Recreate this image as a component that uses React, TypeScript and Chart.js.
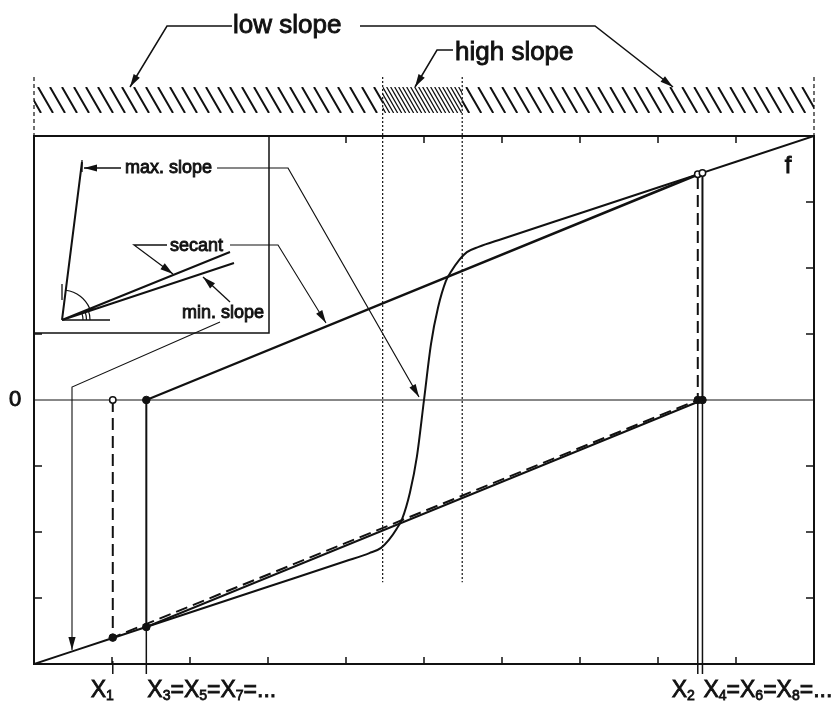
import React, { useEffect, useRef } from "react";
import { Chart, registerables } from "chart.js";

Chart.register(...registerables);

// ---- data ----
const fX = [0, 1, 2, 3, 4, 4.3, 4.45, 4.55, 4.65, 4.72, 4.82, 4.91, 5.0, 5.09, 5.18, 5.28, 5.35, 5.45, 5.55, 5.7, 6, 7, 8, 9, 10];
const fY = [-4, -3.61, -3.22, -2.83, -2.44, -2.32, -2.24, -2.12, -1.95, -1.8, -1.4, -0.85, 0, 0.85, 1.4, 1.8, 1.95, 2.12, 2.24, 2.32, 2.44, 2.83, 3.22, 3.61, 4];

const X1 = 1.01;
const X2 = 8.51;
const X3 = 1.44;
const X4 = 8.57;
const FX1 = -3.6;
const FX2 = 3.42;
const FX3 = -3.44;
const FX4 = 3.44;

const dashedPathX = [X1, X1, X2, X2];
const dashedPathY = [0, FX1, 0, FX2];
const solidPathX = [X2, X3, X3, X4, X4, X3];
const solidPathY = [FX2, 0, FX3, 0, FX4, 0];

const filledPtsX = [X1, X3, X3, X2, X4];
const filledPtsY = [FX1, FX3, 0, 0, 0];
const openPtsX = [X1, X2, X4];
const openPtsY = [0, FX2, FX4];

const xTicks = [1, 2, 3, 4, 5, 6, 7, 8, 9];
const yTicks = [-3, -2, -1, 1, 2, 3];
const highSlopeBounds = [4.47, 5.49];
const dottedBottomY = -2.76;

const FONT = '"Liberation Sans", Arial, Helvetica, sans-serif';
const INK = "#111";

const zip = (xs: number[], ys: number[]) => xs.map((x, i) => ({ x, y: ys[i] }));

function arrowPath(ctx: CanvasRenderingContext2D, pts: number[][], head: boolean, lw = 1.2) {
  ctx.save();
  ctx.lineWidth = lw;
  ctx.strokeStyle = INK;
  ctx.fillStyle = INK;
  ctx.setLineDash([]);
  ctx.beginPath();
  ctx.moveTo(pts[0][0], pts[0][1]);
  for (let i = 1; i < pts.length; i++) ctx.lineTo(pts[i][0], pts[i][1]);
  ctx.stroke();
  if (head) {
    const [x2, y2] = pts[pts.length - 1];
    const [x1, y1] = pts[pts.length - 2];
    const a = Math.atan2(y2 - y1, x2 - x1);
    const L = 13, W = 3.6;
    const c = Math.cos(a), s = Math.sin(a);
    ctx.beginPath();
    ctx.moveTo(x2, y2);
    ctx.lineTo(x2 - L * c + W * s, y2 - L * s - W * c);
    ctx.lineTo(x2 - L * c - W * s, y2 - L * s + W * c);
    ctx.closePath();
    ctx.fill();
  }
  ctx.restore();
}

function text(ctx: CanvasRenderingContext2D, t: string, x: number, y: number, size: number, align: CanvasTextAlign = "left") {
  ctx.save();
  ctx.font = `${size}px ${FONT}`;
  ctx.fillStyle = INK;
  ctx.strokeStyle = INK;
  ctx.lineWidth = 0.9;
  ctx.textAlign = align;
  ctx.textBaseline = "middle";
  ctx.fillText(t, x, y);
  ctx.strokeText(t, x, y);
  ctx.restore();
}

function subText(ctx: CanvasRenderingContext2D, parts: [string, boolean][], x: number, y: number, align: "left" | "right") {
  const big = `23px ${FONT}`;
  const small = `14px ${FONT}`;
  ctx.save();
  ctx.fillStyle = INK;
  ctx.strokeStyle = INK;
  ctx.lineWidth = 0.8;
  ctx.textAlign = "left";
  ctx.textBaseline = "alphabetic";
  let w = 0;
  for (const [t, sub] of parts) {
    ctx.font = sub ? small : big;
    w += ctx.measureText(t).width;
  }
  let cx = align === "left" ? x : x - w;
  for (const [t, sub] of parts) {
    ctx.font = sub ? small : big;
    const yy = sub ? y + 3 : y;
    ctx.fillText(t, cx, yy);
    ctx.strokeText(t, cx, yy);
    cx += ctx.measureText(t).width;
  }
  ctx.restore();
}

const figurePlugin = {
  id: "figure",
  beforeDraw(chart: any) {
    const { ctx, width, height } = chart;
    ctx.save();
    ctx.fillStyle = "#fff";
    ctx.fillRect(0, 0, width, height);
    ctx.restore();
  },
  beforeDatasetsDraw(chart: any) {
    const { ctx, chartArea: a, scales } = chart;
    const xs = scales.x, ys = scales.y;
    ctx.save();
    // zero line
    ctx.strokeStyle = INK;
    ctx.lineWidth = 1;
    const y0 = ys.getPixelForValue(0);
    ctx.beginPath();
    ctx.moveTo(a.left, y0);
    ctx.lineTo(a.right, y0);
    ctx.stroke();

    // hatch bar
    const barTop = 87, barBot = 113;
    const bx0 = xs.getPixelForValue(0);
    const bx1 = xs.getPixelForValue(highSlopeBounds[0]);
    const bx2 = xs.getPixelForValue(highSlopeBounds[1]);
    const bx3 = xs.getPixelForValue(10);
    const hatch = (l: number, r: number, step: number, lw: number) => {
      ctx.save();
      ctx.beginPath();
      ctx.rect(l, barTop, r - l, barBot - barTop);
      ctx.clip();
      ctx.lineWidth = lw;
      ctx.beginPath();
      for (let s = l - 20; s < r + 2; s += step) {
        ctx.moveTo(s, barTop);
        ctx.lineTo(s + 15, barBot);
      }
      ctx.stroke();
      ctx.restore();
    };
    hatch(bx0, bx1, 12, 2);
    hatch(bx1, bx2, 4, 1.3);
    hatch(bx2, bx3, 12, 2);

    // outer dashed verticals
    ctx.setLineDash([4, 3]);
    ctx.lineWidth = 1.2;
    for (const v of [0, 10]) {
      const px = xs.getPixelForValue(v);
      ctx.beginPath();
      ctx.moveTo(px, 77);
      ctx.lineTo(px, a.top);
      ctx.stroke();
    }
    // dotted region bounds
    ctx.setLineDash([2, 2]);
    ctx.lineWidth = 1.2;
    const yb = ys.getPixelForValue(dottedBottomY);
    for (const v of highSlopeBounds) {
      const px = xs.getPixelForValue(v);
      ctx.beginPath();
      ctx.moveTo(px, 77);
      ctx.lineTo(px, yb);
      ctx.stroke();
    }
    ctx.restore();
  },
  afterDatasetsDraw(chart: any) {
    const { ctx, chartArea: a, scales } = chart;
    const xs = scales.x, ys = scales.y;
    ctx.save();
    ctx.strokeStyle = INK;
    ctx.fillStyle = INK;

    // extensions below the axis
    ctx.lineWidth = 1.5;
    const ext = (v: number, from: number) => {
      const px = xs.getPixelForValue(v);
      ctx.beginPath();
      ctx.moveTo(px, from);
      ctx.lineTo(px, a.bottom + 10);
      ctx.stroke();
    };
    ext(X1, a.bottom - 3);
    ext(X3, ys.getPixelForValue(FX3));
    ext(X2, ys.getPixelForValue(0));
    ext(X4, ys.getPixelForValue(0));

    // frame
    ctx.lineWidth = 2;
    ctx.strokeRect(a.left, a.top, a.right - a.left, a.bottom - a.top);
    // ticks
    ctx.lineWidth = 1.5;
    for (const t of xTicks) {
      const px = xs.getPixelForValue(t);
      ctx.beginPath();
      ctx.moveTo(px, a.bottom);
      ctx.lineTo(px, a.bottom - 7);
      ctx.moveTo(px, a.top);
      ctx.lineTo(px, a.top + 7);
      ctx.stroke();
    }
    for (const t of yTicks) {
      const py = ys.getPixelForValue(t);
      ctx.beginPath();
      ctx.moveTo(a.right, py);
      ctx.lineTo(a.right - 8, py);
      ctx.moveTo(a.left, py);
      ctx.lineTo(a.left + 8, py);
      ctx.stroke();
    }

    // inset box
    ctx.fillStyle = "#fff";
    ctx.fillRect(a.left, a.top, 269 - a.left, 333 - a.top);
    ctx.fillStyle = INK;
    ctx.lineWidth = 1.5;
    ctx.beginPath();
    ctx.moveTo(a.left, 333);
    ctx.lineTo(269, 333);
    ctx.lineTo(269, a.top);
    ctx.stroke();
    ctx.lineWidth = 2;
    ctx.beginPath();
    ctx.moveTo(a.left, a.bottom);
    ctx.lineTo(a.left, a.top);
    ctx.lineTo(a.right, a.top);
    ctx.stroke();

    // inset content
    const ox = 62, oy = 320;
    ctx.lineWidth = 2;
    ctx.beginPath();
    ctx.moveTo(ox, oy); ctx.lineTo(82, 162);
    ctx.moveTo(ox, oy); ctx.lineTo(230, 252);
    ctx.moveTo(ox, oy); ctx.lineTo(234, 263);
    ctx.stroke();
    ctx.lineWidth = 1.3;
    ctx.beginPath();
    ctx.moveTo(ox, oy); ctx.lineTo(110, oy);
    ctx.moveTo(ox, 284); ctx.lineTo(ox, 300);
    ctx.moveTo(82, 160); ctx.lineTo(82, 172);
    ctx.stroke();
    const aMax = Math.atan2(162 - oy, 82 - ox);
    const aSec = Math.atan2(252 - oy, 230 - ox);
    const aMin = Math.atan2(263 - oy, 234 - ox);
    ctx.lineWidth = 1.2;
    ctx.beginPath();
    ctx.arc(ox, oy, 30, aMax, aSec);
    ctx.stroke();
    for (const [r, ang] of [[21, aMin], [24.5, aMin], [28, aSec]] as number[][]) {
      ctx.beginPath();
      ctx.arc(ox, oy, r, ang, 0);
      ctx.stroke();
    }

    // inset labels and leaders
    text(ctx, "max. slope", 125, 168, 18);
    arrowPath(ctx, [[121, 168], [84, 168]], true, 1.3);
    arrowPath(ctx, [[217, 168], [288, 168], [419, 397]], true, 1.2);

    text(ctx, "secant", 170, 246, 18);
    arrowPath(ctx, [[167, 245], [134, 245], [173, 274]], true, 1.3);
    arrowPath(ctx, [[230, 245], [278, 245], [326, 323]], true, 1.1);

    text(ctx, "min. slope", 182, 313, 18);
    arrowPath(ctx, [[230, 302], [203, 277]], true, 1.3);
    arrowPath(ctx, [[220, 322], [72, 387], [72, 650]], true, 1.1);

    // top labels
    text(ctx, "low slope", 233, 26, 26);
    arrowPath(ctx, [[232, 26], [167, 26], [130, 87]], true, 1.5);
    arrowPath(ctx, [[360, 26], [595, 26], [673, 87]], true, 1.5);
    text(ctx, "high slope", 455, 53, 26);
    arrowPath(ctx, [[453, 50], [437, 50], [415, 87]], true, 1.5);

    // f label
    text(ctx, "f", 788, 166, 24, "center");
    // zero label
    text(ctx, "0", 15, 400, 22, "center");

    // x labels
    const base = 697;
    subText(ctx, [["X", false], ["1", true]], xs.getPixelForValue(X1) + 1, base, "right");
    subText(ctx, [["X", false], ["3", true], ["=X", false], ["5", true], ["=X", false], ["7", true], ["=...", false]], xs.getPixelForValue(X3) + 1, base, "left");
    subText(ctx, [["X", false], ["2", true]], xs.getPixelForValue(X2) - 3, base, "right");
    subText(ctx, [["X", false], ["4", true], ["=X", false], ["6", true], ["=X", false], ["8", true], ["=...", false]], xs.getPixelForValue(X4) + 1, base, "left");

    ctx.restore();
  },
};

export default function App() {
  const ref = useRef<HTMLCanvasElement | null>(null);
  useEffect(() => {
    document.body.style.margin = "0";
    const canvas = ref.current!;
    const chart = new Chart(canvas, {
      type: "scatter",
      data: {
        datasets: [
          {
            label: "open",
            data: zip(openPtsX, openPtsY),
            showLine: false,
            pointRadius: 3.2,
            pointBackgroundColor: "#fff",
            pointBorderColor: INK,
            pointBorderWidth: 1.5,
            clip: false,
          } as any,
          {
            label: "filled",
            data: zip(filledPtsX, filledPtsY),
            showLine: false,
            pointRadius: 3.8,
            pointBackgroundColor: INK,
            pointBorderColor: INK,
            pointBorderWidth: 1,
            clip: false,
          },
          {
            label: "iteration solid",
            data: zip(solidPathX, solidPathY),
            showLine: true,
            borderColor: INK,
            borderWidth: 2,
            pointRadius: 0,
            tension: 0,
          },
          {
            label: "iteration dashed",
            data: zip(dashedPathX, dashedPathY),
            showLine: true,
            borderColor: INK,
            borderWidth: 2,
            borderDash: [12, 6],
            pointRadius: 0,
            tension: 0,
          },
          {
            label: "f",
            data: zip(fX, fY),
            showLine: true,
            borderColor: INK,
            borderWidth: 2,
            pointRadius: 0,
            cubicInterpolationMode: "monotone",
          },
        ],
      },
      options: {
        animation: false,
        responsive: false,
        layout: { padding: { left: 34, right: 26, top: 136, bottom: 37 } },
        plugins: { legend: { display: false }, tooltip: { enabled: false } },
        events: [],
        scales: {
          x: { type: "linear", min: 0, max: 10, display: false },
          y: { type: "linear", min: -4, max: 4, display: false },
        },
      },
      plugins: [figurePlugin],
    });
    return () => chart.destroy();
  }, []);
  return (
    <div style={{ position: "absolute", left: 0, top: 0, width: 840, height: 701 }}>
      <canvas ref={ref} width={840} height={701} style={{ width: 840, height: 701, display: "block" }} />
    </div>
  );
}
